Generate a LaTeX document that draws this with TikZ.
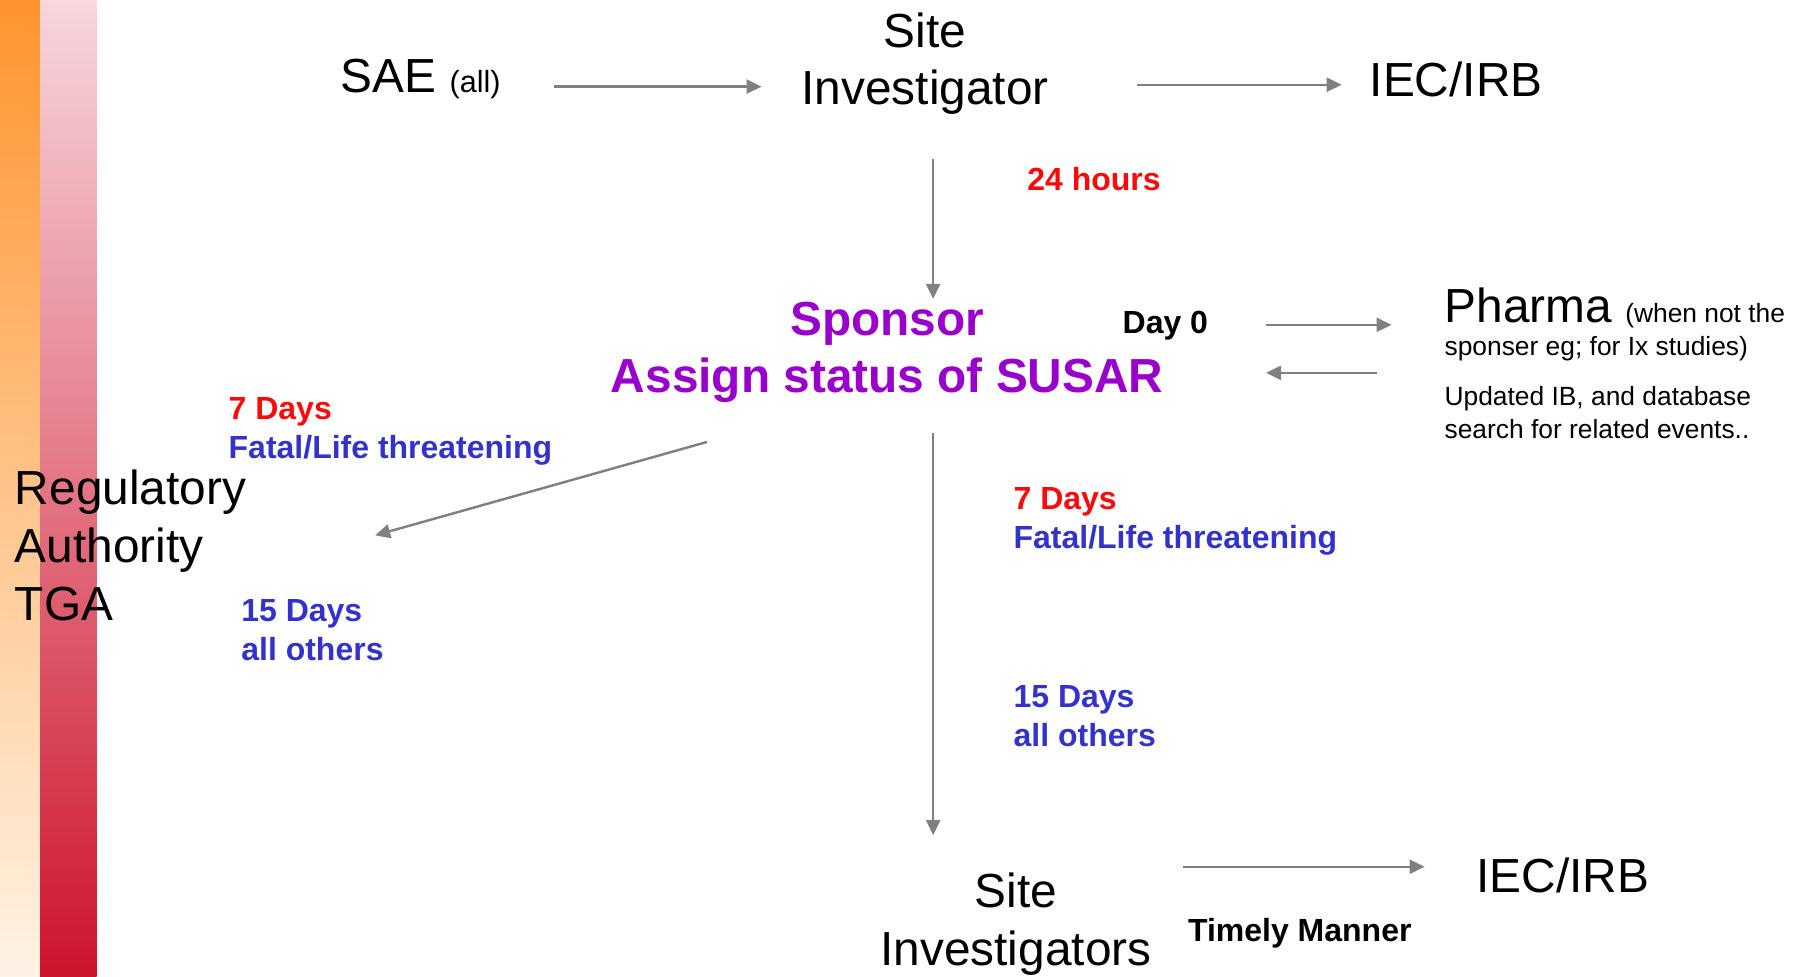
\documentclass[tikz,border=0pt]{standalone}
\usepackage{fontspec}
\setmainfont{Liberation Sans}
\usetikzlibrary{arrows.meta}

\definecolor{flowgray}{RGB}{128,128,128}
\definecolor{tagred}{RGB}{250,10,10}
\definecolor{tagblue}{RGB}{51,51,204}
\definecolor{sponsorpurple}{RGB}{153,0,204}

\begin{document}
\begin{tikzpicture}[x=0.01149cm, y=-0.01155cm,
    every node/.style={inner sep=0pt, outer sep=0pt},
    big/.style={font=\fontsize{13.6}{16.4}\selectfont},
    tag/.style={font=\bfseries\fontsize{9.1}{11.1}\selectfont, align=left},
    note/.style={font=\fontsize{7.5}{9.2}\selectfont, align=left},
    flow/.style={draw=flowgray, line width=0.7pt,
        -{Triangle[length=0.15cm, width=0.14cm]}}]

    \useasboundingbox (0,0) rectangle (1568,845);

    % --- Side bands ---
    \shade[top color={rgb,255:red,255;green,148;blue,46},
           middle color={rgb,255:red,252;green,190;blue,120},
           bottom color={rgb,255:red,255;green,243;blue,229}]
        (0,0) rectangle (35,845);
    \shade[top color={rgb,255:red,247;green,214;blue,220},
           middle color={rgb,255:red,224;green,112;blue,130},
           bottom color={rgb,255:red,206;green,20;blue,45}]
        (35,0) rectangle (84,845);

    % --- Top row ---
    \node[big] (sae) at (366,68) {SAE {\fontsize{8.7}{10}\selectfont(all)}};
    \node[big, align=center] (si) at (805,55) {Site\\Investigator};
    \node[big] (iec1) at (1267,69) {IEC/IRB};

    \draw[flow, shorten <=0.53cm, shorten >=0.40cm]
        ([yshift=-0.08cm]sae.east) -- ([yshift=-0.08cm]sae.east -| si.west);
    \draw[flow, shorten <=0.88cm, shorten >=0.28cm]
        ([yshift=-0.05cm]iec1.west -| si.east) -- ([yshift=-0.05cm]iec1.west);

    % --- Sponsor ---
    \node[big, font=\bfseries\fontsize{13.6}{16.4}\selectfont, text=sponsorpurple,
        align=center] (sponsor) at (772,305) {Sponsor\\Assign status of SUSAR};
    \node[tag, text=tagred] (hours) at (952,155) {24 hours};

    \draw[flow, shorten <=0.44cm, shorten >=0.03cm]
        ([xshift=0.08cm]si.south) -- ([xshift=0.08cm]si.south |- sponsor.north);

    % --- Pharma ---
    \node[tag] (day0) at (1014,282) {Day 0};
    \node[big, anchor=base west] (pharma) at (1257,279)
        {Pharma {\fontsize{7.5}{9.2}\selectfont (when not the}};
    \node[note, anchor=base west] (pharmanote) at (1257,308)
        {sponser eg; for Ix studies)};
    \node[note, anchor=west] (ibnote) at (1257,357)
        {Updated IB, and database\\search for related events..};

    \draw[flow, shorten <=0.58cm, shorten >=0.53cm]
        ([yshift=0.01cm]day0.east) -- ([yshift=0.01cm]day0.east -| pharma.west);
    \draw[flow, shorten <=0.68cm, shorten >=0.58cm]
        ([yshift=-0.47cm]day0.east -| pharma.west) -- ([yshift=-0.47cm]day0.east);

    % --- Regulatory authority ---
    \node[big, align=left, anchor=west] (regul) at (13,472)
        {Regulatory\\Authority\\TGA};
    \node[tag, text=tagblue, anchor=west] (sevenleft) at (199,373)
        {\textcolor{tagred}{7 Days}\\Fatal/Life threatening};
    \node[tag, text=tagblue, anchor=west] (fifteenleft) at (210,545)
        {15 Days\\all others};

    \draw[flow] ([xshift=0.96cm, yshift=-0.39cm]sponsor.south west)
        -- ([xshift=1.29cm, yshift=0.10cm]regul.east);

    % --- Site investigators ---
    \node[big, align=center] (sis) at (884,800) {Site\\Investigators};
    \node[big] (iec2) at (1360,758) {IEC/IRB};
    \node[tag] (timely) at (1131,808) {Timely Manner};
    \node[tag, text=tagblue, anchor=west] (sevenright) at (882,451)
        {\textcolor{tagred}{7 Days}\\Fatal/Life threatening};
    \node[tag, text=tagblue, anchor=west] (fifteenright) at (882,620)
        {15 Days\\all others};

    \draw[flow, shorten <=0.30cm, shorten >=0.38cm]
        ([xshift=0.46cm]sponsor.south) -- ([xshift=0.46cm]sponsor.south |- sis.north);
    \draw[flow, shorten <=0.32cm, shorten >=0.52cm]
        ([yshift=0.09cm]iec2.west -| sis.east) -- ([yshift=0.09cm]iec2.west);

\end{tikzpicture}
\end{document}
